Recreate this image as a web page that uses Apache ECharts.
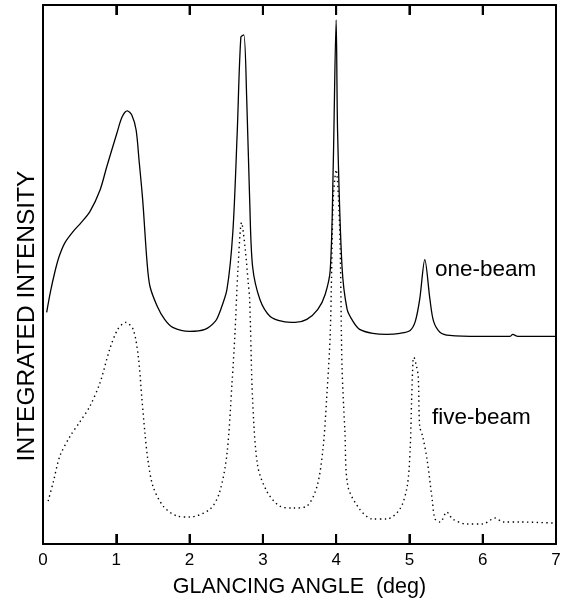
<!DOCTYPE html>
<html>
<head>
<meta charset="utf-8">
<script src="https://cdn.jsdelivr.net/npm/echarts@6/dist/echarts.min.js"></script>
<style>
  html, body { margin: 0; padding: 0; background: #fff; }
  #chart { width: 566px; height: 610px; }
</style>
</head>
<body>
<div id="chart"></div>
<script>
// glancing angle (deg) / integrated intensity (arbitrary units)
var oneBeamX = [0.05, 0.10, 0.16, 0.22, 0.30, 0.41, 0.52, 0.64, 0.78, 0.87, 1.01, 1.08, 1.15, 1.21, 1.27, 1.31, 1.36, 1.42, 1.46, 1.56, 1.66, 1.77, 2.00,
    2.21, 2.35, 2.41, 2.51, 2.59, 2.65, 2.70, 2.74, 2.78, 2.82, 2.86, 2.96, 3.10, 3.27, 3.44, 3.60, 3.75, 3.85, 3.92, 3.96, 4.00, 4.02,
    4.08, 4.15, 4.23, 4.32, 4.50, 4.69, 4.87, 5.01, 5.08, 5.14, 5.21, 5.28, 5.33, 5.42, 5.55, 5.96, 6.37, 6.41, 6.48, 7.00];
var oneBeamY = [232, 252, 272, 288, 302, 313, 322, 333, 355, 378, 412, 428, 434, 430, 415, 385, 345, 282, 258, 238, 225, 217, 213,
    215, 223, 232, 255, 312, 412, 508, 510, 445, 345, 278, 245, 228, 223, 222, 225, 235, 250, 275, 378, 525, 412,
    278, 235, 223, 215, 211, 210, 211, 214, 223, 245, 285, 245, 223, 212, 209, 208, 208, 210, 208, 208];

var fiveBeamX = [0.07, 0.14, 0.23, 0.37, 0.50, 0.64, 0.78, 0.91, 1.02, 1.13, 1.23, 1.30, 1.35, 1.39, 1.43, 1.50, 1.64, 1.83, 2.00,
    2.28, 2.41, 2.51, 2.58, 2.62, 2.66, 2.71, 2.76, 2.80, 2.82, 2.86, 2.93, 3.06, 3.23, 3.41, 3.60, 3.74, 3.82, 3.87, 3.92, 3.96, 4.00,
    4.05, 4.08, 4.12, 4.16, 4.32, 4.50, 4.69, 4.87, 4.97, 5.01, 5.03, 5.05, 5.06, 5.09, 5.12, 5.14, 5.18, 5.24, 5.31, 5.35, 5.42,
    5.51, 5.59, 5.78, 6.00, 6.17, 6.28, 6.51, 6.96];
var fiveBeamY = [43, 62, 88, 108, 122, 138, 162, 195, 215, 222, 215, 188, 145, 112, 85, 58, 38, 28, 27,
    35, 52, 90, 162, 212, 275, 322, 295, 262, 245, 145, 78, 52, 38, 36, 38, 58, 95, 145, 212, 345, 375,
    312, 178, 112, 58, 35, 25, 25, 35, 58, 95, 145, 185, 187, 180, 168, 118, 108, 85, 45, 25, 22,
    32, 25, 20, 20, 26, 22, 22, 21];

var xTicks = [0, 1, 2, 3, 4, 5, 6, 7];
var yMin = 0, yMax = 540;

function pairs(xs, ys){
    var out = [];
    for(var i = 0; i < xs.length; i++){
        out.push([xs[i], ys[i]]);
    }
    return out;
}

var font = "Liberation Sans";
var frame = {show: true, onZero: false, lineStyle: {color: "#000", width: 2}};
var ticks = {show: true, inside: true, length: 10, lineStyle: {color: "#000", width: 2}};
var texts = [
    // y axis title sits below the plot centre in the original
    {type: "text", x: 27, y: 316, rotation: Math.PI / 2,
        style: {text: "INTEGRATED INTENSITY", fontFamily: font, fontSize: 24.5, fill: "#000", align: "center", verticalAlign: "middle"}},
    {type: "text", left: 435, top: 258, style: {text: "one-beam", fontFamily: font, fontSize: 22.5, fill: "#000"}},
    {type: "text", left: 432, top: 406, style: {text: "five-beam", fontFamily: font, fontSize: 22.5, fill: "#000"}}
];

var chart = echarts.init(document.getElementById("chart"));
chart.setOption({
    animation: false,
    backgroundColor: "#fff",
    grid: {left: 43, right: 10, top: 5, bottom: 66},
    xAxis: [
        {
            type: "value", position: "bottom",
            min: xTicks[0], max: xTicks[xTicks.length - 1], interval: 1,
            name: "GLANCING ANGLE  (deg)", nameLocation: "middle", nameGap: 32,
            nameTextStyle: {fontFamily: font, fontSize: 21.5, color: "#000"},
            axisLine: frame,
            axisTick: ticks,
            axisLabel: {fontFamily: font, fontSize: 17, color: "#000", margin: 8},
            splitLine: {show: false}
        },
        {
            type: "value", position: "top",
            min: xTicks[0], max: xTicks[xTicks.length - 1], interval: 1,
            axisLine: frame,
            axisTick: ticks,
            axisLabel: {show: false},
            splitLine: {show: false}
        }
    ],
    yAxis: [
        {
            type: "value", position: "left", min: yMin, max: yMax,
            axisLine: frame,
            axisTick: {show: false},
            axisLabel: {show: false},
            splitLine: {show: false}
        },
        {
            type: "value", position: "right", min: yMin, max: yMax,
            axisLine: frame,
            axisTick: {show: false},
            axisLabel: {show: false},
            splitLine: {show: false}
        }
    ],
    series: [
        {
            name: "one-beam", type: "line", showSymbol: false, smooth: 0.3,
            lineStyle: {color: "#000", width: 1.3},
            data: pairs(oneBeamX, oneBeamY)
        },
        {
            name: "five-beam", type: "line", showSymbol: false, smooth: 0.3,
            lineStyle: {color: "#000", width: 1.4, type: [1.4, 3.4]},
            data: pairs(fiveBeamX, fiveBeamY)
        }
    ],
    graphic: texts
});

// inward tick marks, placed through the axis scale
try {
    var tickLines = [];
    for(var i = 0; i < xTicks.length; i++){
        var b = chart.convertToPixel({xAxisIndex: 0, yAxisIndex: 0}, [xTicks[i], yMin]);
        var t = chart.convertToPixel({xAxisIndex: 0, yAxisIndex: 0}, [xTicks[i], yMax]);
        tickLines.push({type: "line", z: 100, shape: {x1: b[0], y1: b[1], x2: b[0], y2: b[1] - 10}, style: {stroke: "#000", lineWidth: 2}});
        tickLines.push({type: "line", z: 100, shape: {x1: t[0], y1: t[1], x2: t[0], y2: t[1] + 10}, style: {stroke: "#000", lineWidth: 2}});
    }
    chart.setOption({graphic: texts.concat(tickLines)});
} catch(e) {
    console.log(e);
}
</script>
</body>
</html>
